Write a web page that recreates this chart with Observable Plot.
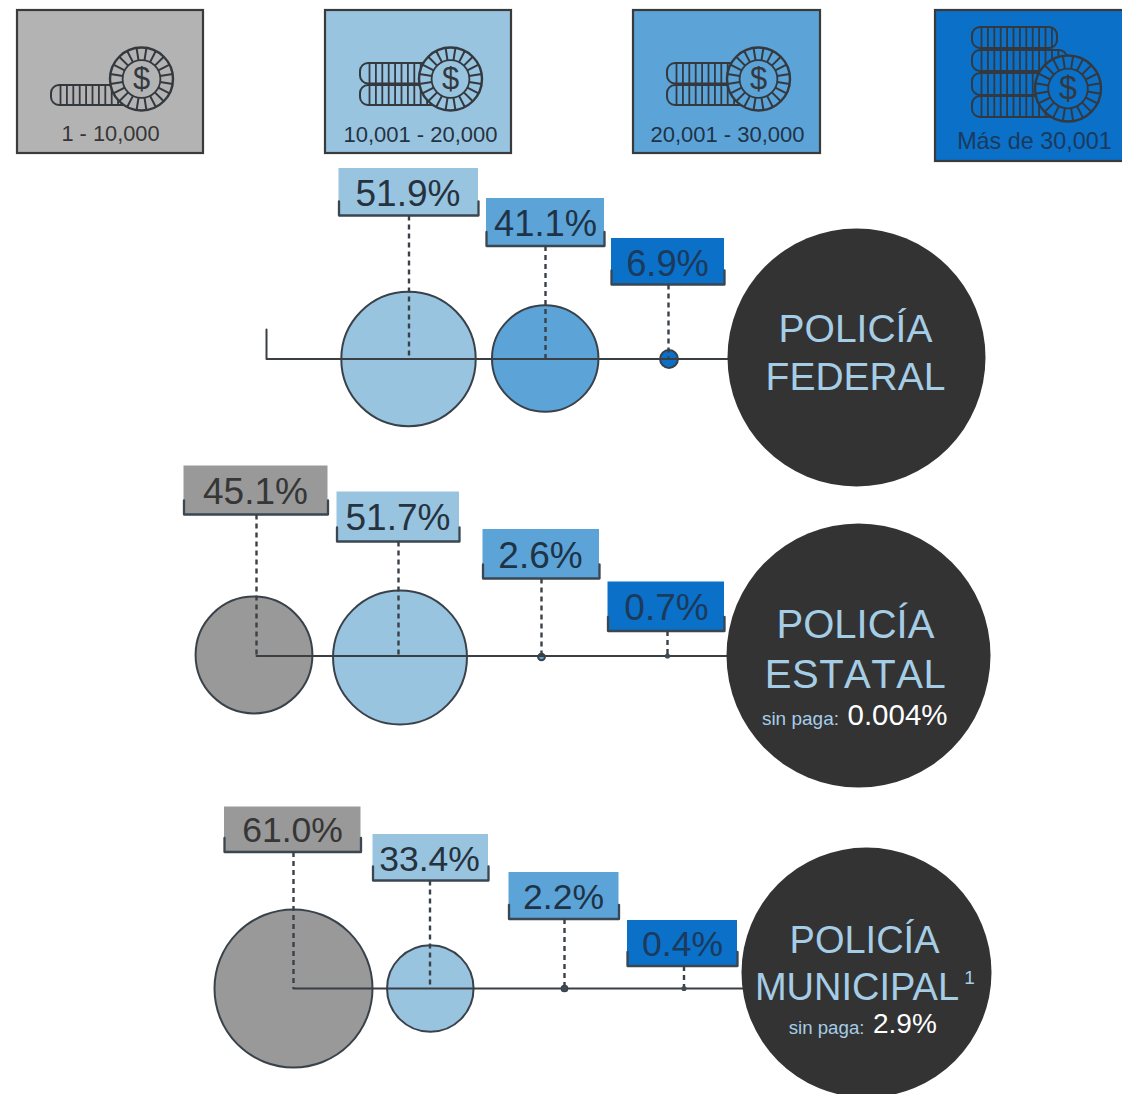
<!DOCTYPE html>
<html lang="es">
<head>
<meta charset="utf-8">
<title>Policía: distribución por ingreso</title>
<script src="https://cdn.jsdelivr.net/npm/d3@7"></script>
<script src="https://cdn.jsdelivr.net/npm/@observablehq/plot@0.6"></script>
<style>
html,body{margin:0;padding:0;background:#fff}
svg{display:block}
</style>
</head>
<body>
<div id="chart"></div>
<script>
// ---- values ----
const bands = ["1 - 10,000", "10,001 - 20,000", "20,001 - 30,000", "Más de 30,001"];
const federal = [null, 51.9, 41.1, 6.9];
const estatal = [45.1, 51.7, 2.6, 0.7];
const municipal = [61.0, 33.4, 2.2, 0.4];
const forceFirstLine = ["POLICÍA", "POLICÍA", "POLICÍA"];
const forceSecondLine = ["FEDERAL", "ESTATAL", "MUNICIPAL"];
const sinPaga = [null, "0.004%", "2.9%"];

// ---- styles ----
const bandFill = ["#b3b3b3", "#98c4e0", "#5ca3d8", "#0a70c8"];
const labelFill = ["#999999", "#98c4e0", "#5ca3d8", "#0a70c8"];
const bubbleFill = ["#999999", "#98c4e0", "#5ca3d8", "#0a70c8"];
const ink = "#3a3a3a";
const textInk = ["#363636", "#26333f", "#1f3347", "#1c3a5c"];
const font = "'Liberation Sans', Arial, sans-serif";

// ---- layout (page arrangement of this infographic) ----
const legendBoxes = [
  {x1: 17, x2: 203, y1: 10, y2: 153, tx: 110, ty: 134, fs: 21.8, cx: 141, cy: 78.5, r: 31.5, sx: 51, stacks: [[85, 105, 141]]},
  {x1: 325, x2: 511, y1: 10, y2: 153, tx: 420, ty: 134, fs: 22, cx: 450, cy: 78.5, r: 31.5, sx: 360, stacks: [[63, 83.5, 450], [85, 105, 450]]},
  {x1: 633, x2: 820, y1: 10, y2: 153, tx: 727, ty: 134, fs: 22, cx: 758, cy: 78.5, r: 31.5, sx: 667, stacks: [[63, 83.5, 758], [85, 105, 758]]},
  {x1: 935, x2: 1124, y1: 10, y2: 161, tx: 1034, ty: 141, fs: 23.4, cx: 1067.5, cy: 88, r: 33, sx: 972, stacks: [[27, 48, 1057], [50, 71, 1067], [73, 95, 1067], [96, 117, 1067]]}
];
const rowLayout = [
  {axisY: 358.5, axisX1: 266, axisX2: 740, capY: 329,
   big: {x: 856, y: 357, r: 129}, l1Y: 329, l2Y: 377, fs: 39, t1x: 855, t2x: 855},
  {axisY: 655.5, axisX1: 256, axisX2: 740, capY: null,
   big: {x: 858, y: 655, r: 132}, l1Y: 625, l2Y: 675, fs: 40, t1x: 855, t2x: 855,
   payY: 715, sinY: 718, payX: 843.5, sinFs: 19, payFs: 29.5},
  {axisY: 988, axisX1: 293, axisX2: 750, capY: null,
   big: {x: 866, y: 972, r: 125}, l1Y: 940, l2Y: 987, fs: 38, t1x: 864, t2x: 856.5,
   payY: 1024, sinY: 1027.5, payX: 869, sinFs: 18.7, payFs: 28}
];
const cellLayout = [
  [null,
   {x1: 338.5, x2: 478, y1: 168, y2: 215, stem: 408.5, cx: 408, cy: 358.5, tx: 407.5, ty: 194, fs: 37},
   {x1: 486, x2: 604, y1: 198, y2: 245.5, stem: 545, cx: 544.7, cy: 358, tx: 545, ty: 224, fs: 36.3},
   {x1: 611, x2: 724, y1: 238, y2: 284, stem: 668, cx: 668.5, cy: 358.5, tx: 667, ty: 264, fs: 36.3}],
  [{x1: 183.5, x2: 327.5, y1: 465.5, y2: 514, stem: 256, cx: 253.5, cy: 654.5, tx: 255, ty: 491.5, fs: 37},
   {x1: 336.5, x2: 459, y1: 491.5, y2: 541, stem: 398, cx: 399.5, cy: 657, tx: 397.5, ty: 518, fs: 37},
   {x1: 482.5, x2: 599, y1: 529, y2: 578, stem: 541, cx: 541, cy: 656.5, tx: 540, ty: 556, fs: 37},
   {x1: 607.5, x2: 724, y1: 581.5, y2: 630.5, stem: 667, cx: 667, cy: 655.5, tx: 666, ty: 608, fs: 37}],
  [{x1: 224, x2: 360.5, y1: 806.5, y2: 851.5, stem: 293, cx: 293, cy: 988, tx: 292, ty: 830, fs: 35.5},
   {x1: 372.5, x2: 488, y1: 834, y2: 880, stem: 429.5, cx: 429.8, cy: 988, tx: 429, ty: 859, fs: 35.5},
   {x1: 508.5, x2: 618.5, y1: 872, y2: 918.5, stem: 564, cx: 564, cy: 988, tx: 563, ty: 897, fs: 35.5},
   {x1: 627, x2: 737, y1: 920, y2: 965.5, stem: 683.5, cx: 683.5, cy: 988, tx: 682, ty: 944, fs: 35.5}]
];

// ---- tables built from the arrays above ----
const series = [federal, estatal, municipal];
const cells = series.flatMap((vals, row) => vals.map((value, band) =>
  value == null ? null : {value, band, row, label: value.toFixed(1) + "%", ...cellLayout[row][band]}
)).filter(Boolean);
const rows = rowLayout.map((d, i) => ({...d, first: forceFirstLine[i], second: forceSecondLine[i], pay: sinPaga[i]}));
const legend = legendBoxes.map((d, i) => ({...d, band: i, label: bands[i]}));
const stacks = legend.flatMap(d => d.stacks.map(([y1, y2, x2]) => ({band: d.band, x1: d.sx, x2, y1, y2})));
const stackTicks = stacks.flatMap(s => d3.range(s.x1 + 9, s.x2 - 4, 6.4).map(x => ({x, y1: s.y1, y2: s.y2, band: s.band})));
const spokes = legend.flatMap(d => d3.range(20).map(i => {
  const a = (i + 0.5) * Math.PI / 10;
  const inner = d.r * 0.6;
  return {band: d.band, x1: d.cx + inner * Math.cos(a), y1: d.cy + inner * Math.sin(a), x2: d.cx + d.r * Math.cos(a), y2: d.cy + d.r * Math.sin(a)};
}));
const brackets = cells.flatMap(c => [
  {k: c.row + "-" + c.band, x: c.x1, y: c.y2 - 14},
  {k: c.row + "-" + c.band, x: c.x1, y: c.y2},
  {k: c.row + "-" + c.band, x: c.x2, y: c.y2},
  {k: c.row + "-" + c.band, x: c.x2, y: c.y2 - 14}
]);
const axisPath = rows.flatMap((r, i) => [
  ...(r.capY ? [{k: i, x: r.axisX1, y: r.capY}] : []),
  {k: i, x: r.axisX1, y: r.axisY},
  {k: i, x: r.axisX2, y: r.axisY}
]);
const inkFor = d => textInk[d.band];

const chart = Plot.plot({
  width: 1122,
  height: 1094,
  margin: 0,
  x: {domain: [0, 1122], range: [0, 1122], axis: null},
  y: {domain: [0, 1094], range: [0, 1094], axis: null},
  r: {type: "linear", domain: [0, 61], range: [0, 79]},
  style: {background: "#ffffff", fontFamily: font},
  marks: [
    // legend boxes
    Plot.rect(legend, {x1: "x1", x2: "x2", y1: "y1", y2: "y2", fill: d => bandFill[d.band], stroke: ink, strokeWidth: 2.2}),
    // coin stacks
    Plot.rect(stacks, {x1: "x1", x2: "x2", y1: "y1", y2: "y2", rx: 8, fill: d => bandFill[d.band], stroke: "#33393f", strokeWidth: 2}),
    Plot.link(stackTicks, {x1: "x", x2: "x", y1: "y1", y2: "y2", stroke: "#33393f", strokeWidth: 1.8}),
    // chips
    ...legend.map(d => Plot.dot([d], {x: "cx", y: "cy", r: d.r, fill: bandFill[d.band], stroke: "#33393f", strokeWidth: 2.4})),
    Plot.link(spokes, {x1: "x1", y1: "y1", x2: "x2", y2: "y2", stroke: "#33393f", strokeWidth: 2}),
    ...legend.map(d => Plot.dot([d], {x: "cx", y: "cy", r: d.r * 0.6, fill: bandFill[d.band], stroke: "#33393f", strokeWidth: 1.8})),
    ...legend.map(d => Plot.text([d], {x: "cx", y: "cy", text: () => "$", fontSize: d.r * 0.98, fill: "#33393f", fontFamily: font})),
    ...legend.map(d => Plot.text([d], {x: "tx", y: "ty", text: "label", fontSize: d.fs, fill: inkFor(d), fontFamily: font})),

    // percentage tags
    Plot.rect(cells, {x1: "x1", x2: "x2", y1: "y1", y2: "y2", fill: d => labelFill[d.band]}),
    Plot.line(brackets, {x: "x", y: "y", z: "k", stroke: "#3a4650", strokeWidth: 2.3, curve: "linear"}),
    ...cells.map(d => Plot.text([d], {x: "tx", y: "ty", text: "label", fontSize: d.fs, fill: inkFor(d), fontFamily: font})),

    // bubbles, whose radius comes from the value
    Plot.dot(cells, {x: "cx", y: "cy", r: "value", fill: d => bubbleFill[d.band], stroke: "#39424a", strokeWidth: 2}),
    // baselines and dashed stems
    Plot.line(axisPath, {x: "x", y: "y", z: "k", stroke: "#3a3f44", strokeWidth: 2, curve: "linear"}),
    Plot.link(cells, {x1: "stem", x2: "stem", y1: "y2", y2: d => rowLayout[d.row].axisY, stroke: "#3a4046", strokeWidth: 2.4, strokeDasharray: "5,4"}),
    Plot.dot(cells.filter(d => d.value < 2.5), {x: "cx", y: "cy", r: 2.6, fill: "#3f4c58"}),

    // force circles and their titles
    ...rows.map(r => Plot.dot([r.big], {x: "x", y: "y", r: r.big.r, fill: "#333333"})),
    ...rows.map(r => Plot.text([r], {x: "t1x", y: "l1Y", text: "first", fontSize: r.fs, fill: "#a6cde6", fontFamily: font})),
    ...rows.map(r => Plot.text([r], {x: "t2x", y: "l2Y", text: "second", fontSize: r.fs, fill: "#a6cde6", fontFamily: font})),
    Plot.text([rows[2]], {x: () => 969, y: () => 977, text: () => "1", fontSize: 19, fill: "#a6cde6", fontFamily: font}),
    ...rows.filter(r => r.pay).map(r => Plot.text([r], {x: "payX", y: "sinY", dx: -5, text: () => "sin paga:", textAnchor: "end", fontSize: r.sinFs, fill: "#a6cde6", fontFamily: font})),
    ...rows.filter(r => r.pay).map(r => Plot.text([r], {x: "payX", y: "payY", dx: 3.5, text: "pay", textAnchor: "start", fontSize: r.payFs, fill: "#ffffff", fontFamily: font}))
  ]
});
// The reference sets ESTATAL without the tight T-A kerning of this font.
d3.select(chart).selectAll("text").filter(function () { return this.textContent === "ESTATAL"; })
  .style("font-kerning", "none").style("letter-spacing", "0.5px");
document.getElementById("chart").appendChild(chart);
</script>
</body>
</html>
